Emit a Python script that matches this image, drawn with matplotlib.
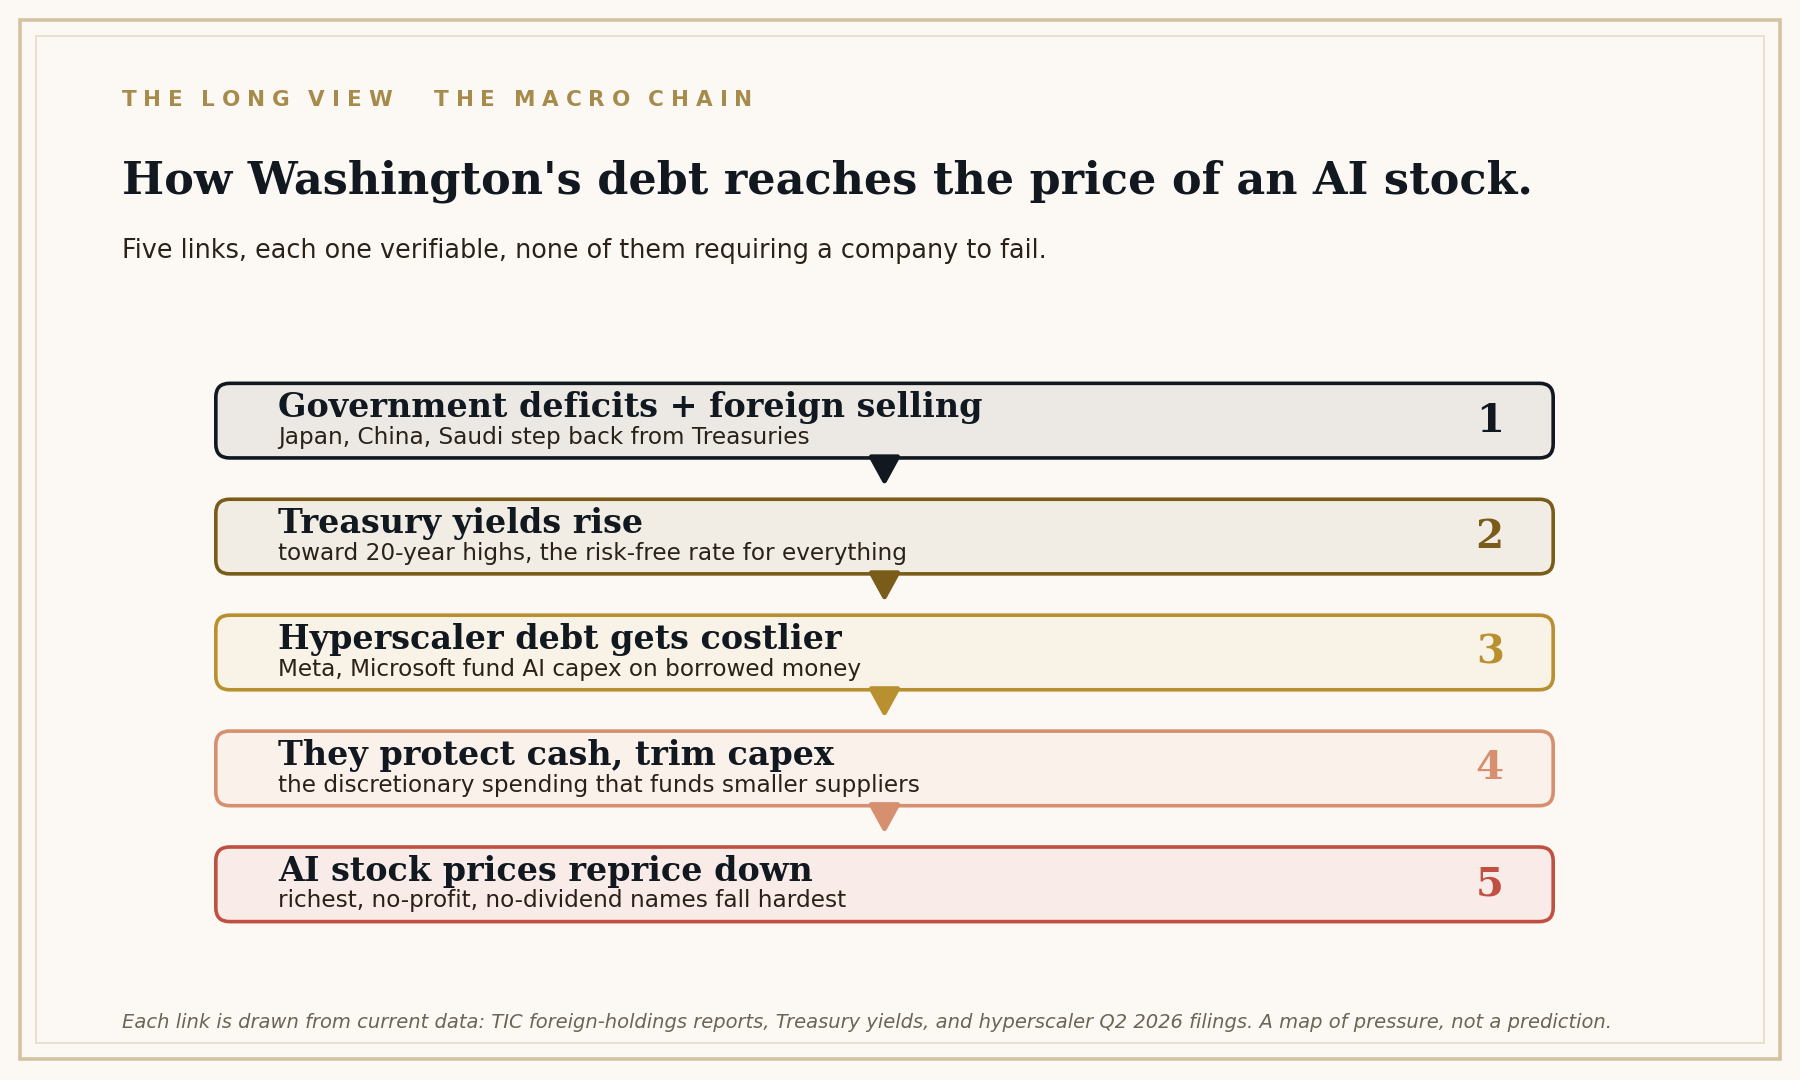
import matplotlib
matplotlib.use('Agg')
import matplotlib.pyplot as plt
from matplotlib.patches import FancyBboxPatch, Polygon, Rectangle
from matplotlib.font_manager import FontProperties

# chain content
step_titles = [
    'Government deficits + foreign selling',
    'Treasury yields rise',
    'Hyperscaler debt gets costlier',
    'They protect cash, trim capex',
    'AI stock prices reprice down',
]
step_notes = [
    'Japan, China, Saudi step back from Treasuries',
    'toward 20-year highs, the risk-free rate for everything',
    'Meta, Microsoft fund AI capex on borrowed money',
    'the discretionary spending that funds smaller suppliers',
    'richest, no-profit, no-dividend names fall hardest',
]
step_numbers = ['1', '2', '3', '4', '5']
edge_colors = ['#111820', '#7a5c1a', '#b8902f', '#d68f6f', '#c05040']
face_colors = ['#ece9e4', '#f1ede5', '#f9f2e6', '#fbf1eb', '#f9ece8']

kicker = ['THE LONG VIEW', 'THE MACRO CHAIN']
title = "How Washington's debt reaches the price of an AI stock."
subtitle = 'Five links, each one verifiable, none of them requiring a company to fail.'
footer = ('Each link is drawn from current data: TIC foreign-holdings reports, Treasury yields, '
          'and hyperscaler Q2 2026 filings. A map of pressure, not a prediction.')

BG = '#fcf9f4'
W, H = 1568, 941

fig = plt.figure(figsize=(18, 10.8), dpi=100)
fig.patch.set_facecolor(BG)
ax = fig.add_axes([0, 0, 1, 1])
ax.set_xlim(0, W)
ax.set_ylim(H, 0)
ax.axis('off')
renderer = fig.canvas.get_renderer()
px_to_unit = W / 1800.0


def spaced_text(x, y, s, prop, color, tracking):
    # letter-spaced caps, one glyph at a time
    for ch in s:
        if ch == ' ':
            x += 10
            continue
        ax.text(x, y, ch, ha='left', va='center', fontproperties=prop, color=color)
        w, _, _ = renderer.get_text_width_height_descent(ch, prop, ismath=False)
        x += w * px_to_unit + tracking


# frame
ax.add_patch(Rectangle((17, 17), 1534, 906, fill=False, ec='#d2c3a2', lw=2.6))
ax.add_patch(Rectangle((31, 31), 1506, 878, fill=False, ec='#e6dcc6', lw=1.2))

# header
kprop = FontProperties(family='DejaVu Sans', weight='bold', size=15.5)
for x, k in zip([106, 378], kicker):
    spaced_text(x, 87, k, kprop, '#a68b4c', 6.0)
ax.text(106, 158, title, ha='left', va='center', fontsize=32,
        fontweight='bold', color='#111820', family='DejaVu Serif')
ax.text(106, 219, subtitle, ha='left', va='center', fontsize=18.4,
        color='#2a2218', family='DejaVu Sans')

# boxes
x0, x1 = 188, 1353
top0, bh, step = 334, 65, 101
xc = (x0 + x1) / 2
for i in range(len(step_titles)):
    top = top0 + i * step
    ax.add_patch(FancyBboxPatch((x0, top), x1 - x0, bh,
                                boxstyle='round,pad=0,rounding_size=12',
                                fc=face_colors[i], ec=edge_colors[i], lw=2.6,
                                zorder=2))
    ax.text(242, top + 21, step_titles[i], ha='left', va='center',
            fontsize=24, fontweight='bold', color='#111820',
            family='DejaVu Serif', zorder=3)
    ax.text(242, top + 47, step_notes[i], ha='left', va='center',
            fontsize=16.7, color='#2a2218', family='DejaVu Sans', zorder=3)
    ax.text(1310, top + bh / 2, step_numbers[i], ha='right', va='center',
            fontsize=29, fontweight='bold', color=edge_colors[i],
            family='DejaVu Serif', zorder=3)
    if i < len(step_titles) - 1:
        yb = top + bh - 1
        ax.add_patch(Polygon([(xc - 11.5, yb), (xc + 11.5, yb), (xc, yb + 21)],
                             closed=True, fc=edge_colors[i], ec=edge_colors[i],
                             lw=3.5, joinstyle='round', zorder=4))

ax.text(106, 891, footer, ha='left', va='center', fontsize=14,
        style='italic', color='#6b6558', family='DejaVu Sans')

fig.savefig('out.png', dpi=100, facecolor=BG)
